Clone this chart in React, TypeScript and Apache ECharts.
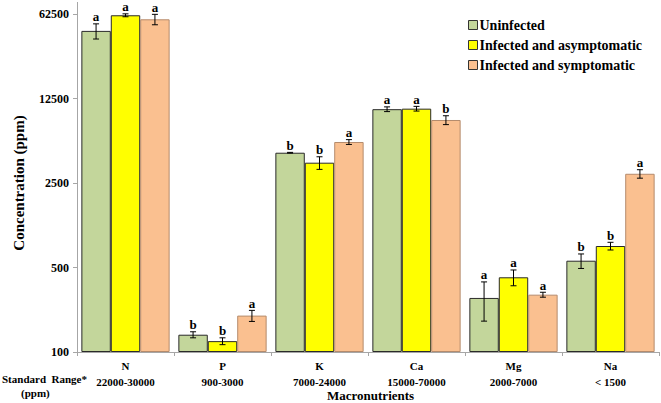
import React, { useEffect, useRef } from "react";
import * as echarts from "echarts";

const categories = ["N", "P", "K", "Ca", "Mg", "Na"];
const standardRanges = ["22000-30000", "900-3000", "7000-24000", "15000-70000", "2000-7000", "< 1500"];
const seriesNames = ["Uninfected", "Infected and asymptomatic", "Infected and symptomatic"];

const uninfected = [45300, 139, 4450, 10200, 280, 569];
const asymptomatic = [61000, 123, 3680, 10300, 415, 753];
const symptomatic = [56500, 200, 5460, 8300, 298, 2980];

const uninfectedErr = [6500, 8, 30, 460, 100, 78];
const asymptomaticErr = [1700, 8, 440, 460, 62, 55];
const symptomaticErr = [5600, 21, 250, 700, 14, 240];

const uninfectedLetters = ["a", "b", "b", "a", "a", "b"];
const asymptomaticLetters = ["a", "b", "b", "a", "a", "b"];
const symptomaticLetters = ["a", "a", "a", "b", "a", "a"];

const yTicks = [100, 500, 2500, 12500, 62500];

const FONT = "Liberation Serif";
const fills = ["#c3d69b", "#ffff00", "#fac090"];
const borders = ["#2a2a2a", "#2a2a2a", "#b58b6c"];
const GAP = 0.09;

export default function App() {
  const ref = useRef<HTMLDivElement>(null);
  useEffect(() => {
    if (!ref.current) return;
    const chart = echarts.init(ref.current, undefined, { renderer: "svg" });
    const values = [uninfected, asymptomatic, symptomatic];
    const errs = [uninfectedErr, asymptomaticErr, symptomaticErr];
    const letters = [uninfectedLetters, asymptomaticLetters, symptomaticLetters];

    const barSeries = values.map((vals, i) => ({
      type: "bar",
      name: seriesNames[i],
      data: vals,
      barGap: "0%",
      barCategoryGap: GAP * 100 + "%",
      itemStyle: { color: fills[i], borderColor: borders[i], borderWidth: 1 },
      z: 2,
    }));

    const errSeries = values.map((vals, i) => ({
      type: "custom",
      name: seriesNames[i] + " err",
      z: 5,
      clip: false,
      data: vals.map((v, j) => [j, v, errs[i][j]]),
      encode: { x: 0, y: 1 },
      renderItem: (params: any, api: any) => {
        const idx = api.value(0);
        const v = api.value(1);
        const e = api.value(2);
        const letter = letters[i][params.dataIndex];
        const catW = api.size([1, 0])[0];
        const bw = (catW * (1 - GAP)) / 3;
        const center = api.coord([idx, v]);
        const x = center[0] + (i - 1) * bw;
        const top = api.coord([idx, v + e])[1];
        const bot = api.coord([idx, Math.max(v - e, 1)])[1];
        const cap = 3;
        return {
          type: "group",
          children: [
            { type: "line", shape: { x1: x, y1: top, x2: x, y2: bot }, style: { stroke: "#000", lineWidth: 1 } },
            { type: "line", shape: { x1: x - cap, y1: top, x2: x + cap, y2: top }, style: { stroke: "#000", lineWidth: 1 } },
            { type: "line", shape: { x1: x - cap, y1: bot, x2: x + cap, y2: bot }, style: { stroke: "#000", lineWidth: 1 } },
            {
              type: "text",
              x: x,
              y: top - 7,
              style: {
                text: letter,
                align: "center",
                verticalAlign: "middle",
                font: `bold 13px ${FONT}`,
                fill: "#000",
              },
            },
          ],
        };
      },
    }));

    chart.setOption({
      animation: false,
      backgroundColor: "#fff",
      grid: { left: 77, right: 2, top: 14, bottom: 51, containLabel: false },
      legend: {
        orient: "vertical",
        left: 463,
        top: 13,
        itemWidth: 9,
        itemHeight: 9,
        itemGap: 6,
        icon: "rect",
        data: seriesNames.map((n, i) => ({
          name: n,
          itemStyle: { color: fills[i], borderColor: "#333", borderWidth: 1 },
        })),
        textStyle: { fontFamily: FONT, fontWeight: "bold", fontSize: 14, color: "#000", padding: [0, 0, 0, -3] },
      },
      xAxis: {
        type: "category",
        data: categories,
        boundaryGap: true,
        axisLine: { lineStyle: { color: "#a6a6a6" } },
        axisTick: { show: true, length: 4, lineStyle: { color: "#a6a6a6" } },
        axisLabel: {
          margin: 6,
          interval: 0,
          formatter: (val: string, idx: number) => `{c|${val}}\n{r|${standardRanges[idx]}}`,
          rich: {
            c: { fontFamily: FONT, fontWeight: "bold", fontSize: 11, color: "#000", lineHeight: 16 },
            r: { fontFamily: FONT, fontWeight: "bold", fontSize: 11, color: "#000", lineHeight: 16 },
          },
        },
      },
      yAxis: {
        type: "log",
        logBase: 5,
        min: yTicks[0],
        max: yTicks[yTicks.length - 1],
        startValue: yTicks[0],
        name: "Concentration (ppm)",
        nameLocation: "middle",
        nameGap: 51,
        nameRotate: 90,
        nameTextStyle: { fontFamily: FONT, fontWeight: "bold", fontSize: 15, color: "#000" },
        axisLine: { show: true, lineStyle: { color: "#a6a6a6" } },
        axisTick: { show: true, length: 4, lineStyle: { color: "#a6a6a6" }, customValues: yTicks },
        splitLine: { show: false },
        axisLabel: {
          fontFamily: FONT,
          fontWeight: "bold",
          fontSize: 12,
          color: "#000",
          margin: 8,
          customValues: yTicks,
          formatter: (v: number) => String(Math.round(v)),
        },
      },
      graphic: [
        { type: "line", shape: { x1: 77.5, y1: 2, x2: 77.5, y2: 14 }, style: { stroke: "#a6a6a6", lineWidth: 1 } },
        {
          type: "text",
          left: 2,
          top: 373,
          style: { text: "Standard  Range*", font: `bold 11px ${FONT}`, fill: "#000" },
        },
        {
          type: "text",
          left: 21,
          top: 387,
          style: { text: "(ppm)", font: `bold 11px ${FONT}`, fill: "#000" },
        },
        {
          type: "text",
          left: 327,
          top: 389,
          style: { text: "Macronutrients", font: `bold 13px ${FONT}`, fill: "#000" },
        },
      ],
      series: [...barSeries, ...errSeries],
    });
    return () => chart.dispose();
  }, []);
  return <div ref={ref} style={{ width: 661, height: 403, position: "absolute", left: 0, top: 0 }} />;
}
